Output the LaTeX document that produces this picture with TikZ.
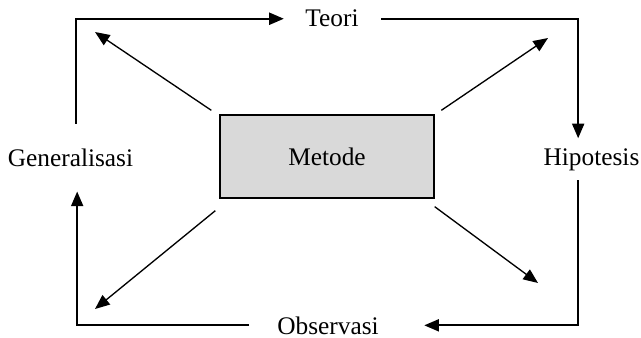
\documentclass[tikz,border=0pt]{standalone}
\usepackage{fontspec}
\setmainfont{Liberation Serif}
\usetikzlibrary{arrows.meta}

\begin{document}
\begin{tikzpicture}[
        x=0.75pt, y=-0.75pt,
        line join=miter,
        label text/.style={font=\fontsize{19}{21}\selectfont, inner sep=2pt, anchor=base},
        flow/.style={line width=1.5pt, -{Triangle[length=11pt, width=9pt]}},
        spoke/.style={line width=1pt, -{Triangle[length=11pt, width=9pt]}}
    ]
    \useasboundingbox (0,0) rectangle (641,338);

    % box in the middle
    \node[draw, line width=1pt, fill={rgb,255:red,217;green,217;blue,217},
        minimum width=160.5pt, minimum height=62.25pt,
        font=\fontsize{19}{21}\selectfont] (metode) at (327,156.5) {Metode};

    % the four stages round it (placed by their baselines)
    \node[label text] (teori) at (332,27) {Teori};
    \node[label text] (hipotesis) at (591.5,166) {Hipotesis};
    \node[label text] (observasi) at (328,334) {Observasi};
    \node[label text] (general) at (70.5,167) {Generalisasi};

    % free ends of the spokes
    \coordinate (nw tip) at (95,32);
    \coordinate (ne tip) at (548,38);
    \coordinate (sw tip) at (95,309);
    \coordinate (se tip) at (538,283);

    % outer cycle
    \draw[flow, shorten <=17pt, shorten >=14pt] ([xshift=4pt]general.north) |- (teori.west);
    \draw[flow, shorten <=15pt, shorten >=6pt] (teori.east) -| ([xshift=-10pt]hipotesis.north);
    \draw[flow, shorten <=4.5pt, shorten >=32pt] ([xshift=-10pt]hipotesis.south) |- (observasi.east);
    \draw[flow, shorten <=19pt, shorten >=16pt] (observasi.west) -| ([xshift=5pt]general.south);

    % spokes out of the box
    \draw[spoke] ([shift={(-6pt,3pt)}]metode.north west) -- (nw tip);
    \draw[spoke] ([shift={(5pt,3pt)}]metode.north east) -- (ne tip);
    \draw[spoke] ([shift={(-3pt,-9pt)}]metode.south west) -- (sw tip);
    \draw[spoke] ([yshift=-6pt]metode.south east) -- (se tip);
\end{tikzpicture}
\end{document}
